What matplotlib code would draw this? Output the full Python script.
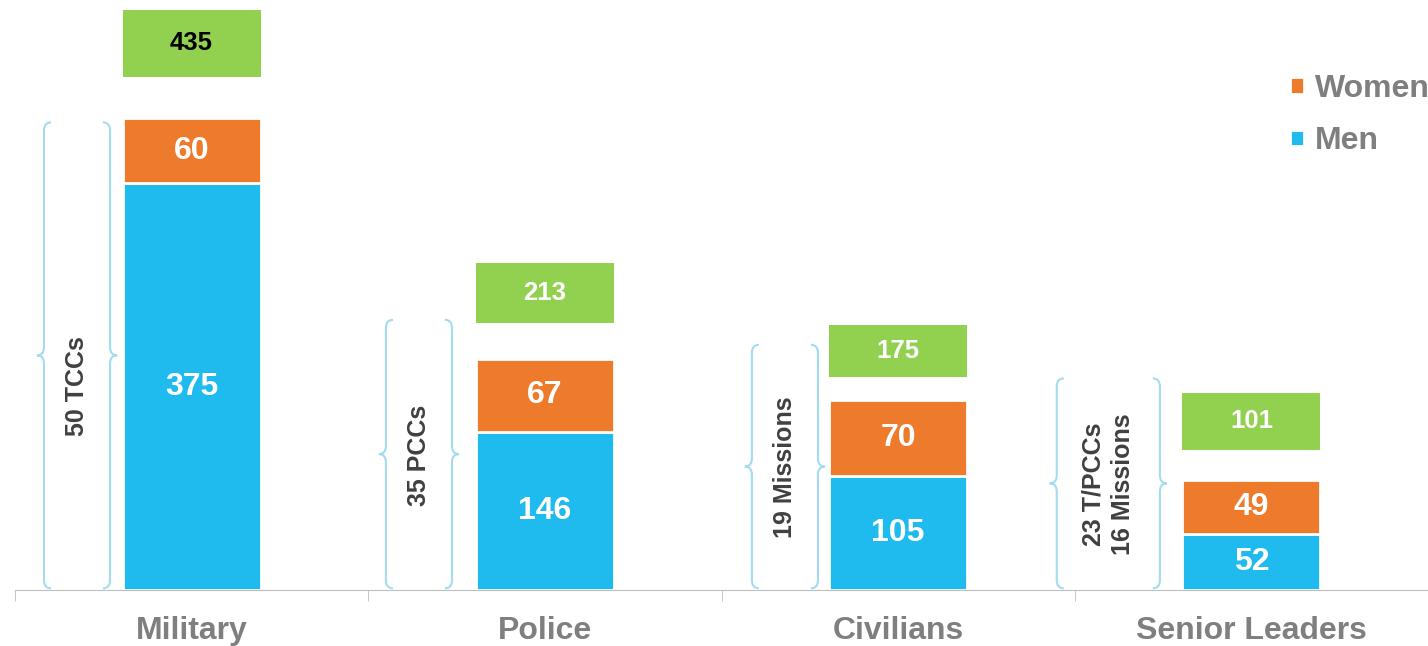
import numpy as np
import matplotlib.pyplot as plt
from matplotlib.path import Path
from matplotlib.patches import PathPatch

plt.rcParams['font.family'] = ['Liberation Sans', 'DejaVu Sans']
plt.rcParams['font.weight'] = 'bold'

categories = ['Military', 'Police', 'Civilians', 'Senior Leaders']
men = [375, 146, 105, 52]
women = [60, 67, 70, 49]
totals = [435, 213, 175, 101]
brace_labels = ['50 TCCs', '35 PCCs', '19 Missions', '23 T/PCCs\n16 Missions']

# layout only
box_gap = [38, 33, 21, 28]
box_h = [62, 55, 48, 53]
brace_top = [431, 249, 226, 195]
brace_x = [(-0.418, -0.231), (-0.450, -0.263), (-0.414, -0.227), (-0.551, -0.259)]
label_shift = [-28, 0, 0, 0]

blue = '#20BBEE'
orange = '#EE7B2B'
green = '#92D050'
brace_col = '#A3DBF1'
grey = '#7F7F7F'


def brace(ax, x, y0, y1, side, dx=0.02, r=7.5):
    # side -1 draws '{', +1 draws '}'
    ym = (y0 + y1) / 2
    s = side
    verts = [(x - s*dx, y1), (x, y1), (x, y1 - r),
             (x, ym + r), (x, ym), (x + s*dx, ym),
             (x, ym), (x, ym - r),
             (x, y0 + r), (x, y0), (x - s*dx, y0)]
    codes = [Path.MOVETO, Path.CURVE3, Path.CURVE3,
             Path.LINETO, Path.CURVE3, Path.CURVE3,
             Path.CURVE3, Path.CURVE3,
             Path.LINETO, Path.CURVE3, Path.CURVE3]
    ax.add_patch(PathPatch(Path(verts, codes), fill=False, edgecolor=brace_col, lw=1.5))


fig = plt.figure(figsize=(14.28, 6.46), dpi=100)
ax = fig.add_axes([15/1428, 56/646, 1413/1428, 590/646])

x = np.arange(len(categories))
w = 0.39
bm = ax.bar(x, men, w, color=blue, edgecolor='white', linewidth=2)
bw = ax.bar(x, women, w, bottom=men, color=orange, edgecolor='white', linewidth=2)
ax.bar(x, box_h, w, bottom=np.array(totals) + np.array(box_gap), color=green, linewidth=0)

for i in range(len(categories)):
    ax.text(x[i], men[i] / 2, str(men[i]), ha='center', va='center',
            color='white', fontsize=23, fontweight='bold')
    ax.text(x[i], men[i] + women[i] / 2, str(women[i]), ha='center', va='center',
            color='white', fontsize=23, fontweight='bold')
    tc = 'black' if i == 0 else 'white'
    ax.text(x[i], totals[i] + box_gap[i] + box_h[i] / 2, str(totals[i]), ha='center',
            va='center', color=tc, fontsize=18.5, fontweight='bold')
    xl, xr = brace_x[i]
    brace(ax, x[i] + xl, 1.5, brace_top[i], -1)
    brace(ax, x[i] + xr, 1.5, brace_top[i], 1)
    ax.text(x[i] + (xl + xr) / 2, brace_top[i] / 2 + label_shift[i], brace_labels[i],
            rotation=90, ha='center', va='center', color='#404040', fontsize=18,
            fontweight='bold', linespacing=1.3, multialignment='center')

ax.set_xlim(-0.5, 3.5)
ax.set_ylim(0, 590 / 1.085)
ax.set_xticks(x)
ax.set_xticklabels(categories, fontsize=23, fontweight='bold', color=grey)
ax.set_xticks([-0.5, 0.5, 1.5, 2.5], minor=True)
ax.tick_params(axis='x', which='major', length=0, pad=19)
ax.tick_params(axis='x', which='minor', length=8, color='#BFBFBF')
ax.set_yticks([])
for sp in ['top', 'right', 'left']:
    ax.spines[sp].set_visible(False)
ax.spines['bottom'].set_color('#BFBFBF')

ax.legend([bw, bm], ['Women', 'Men'], loc='upper left',
          bbox_to_anchor=(1290/1428, 1 - 74/646), bbox_transform=fig.transFigure,
          frameon=False, prop={'size': 23, 'weight': 'bold'}, labelcolor=grey,
          handlelength=0.43, handleheight=0.43, handletextpad=0.35,
          labelspacing=0.7, borderpad=0, borderaxespad=0)

fig.savefig('out.png', dpi=100)
